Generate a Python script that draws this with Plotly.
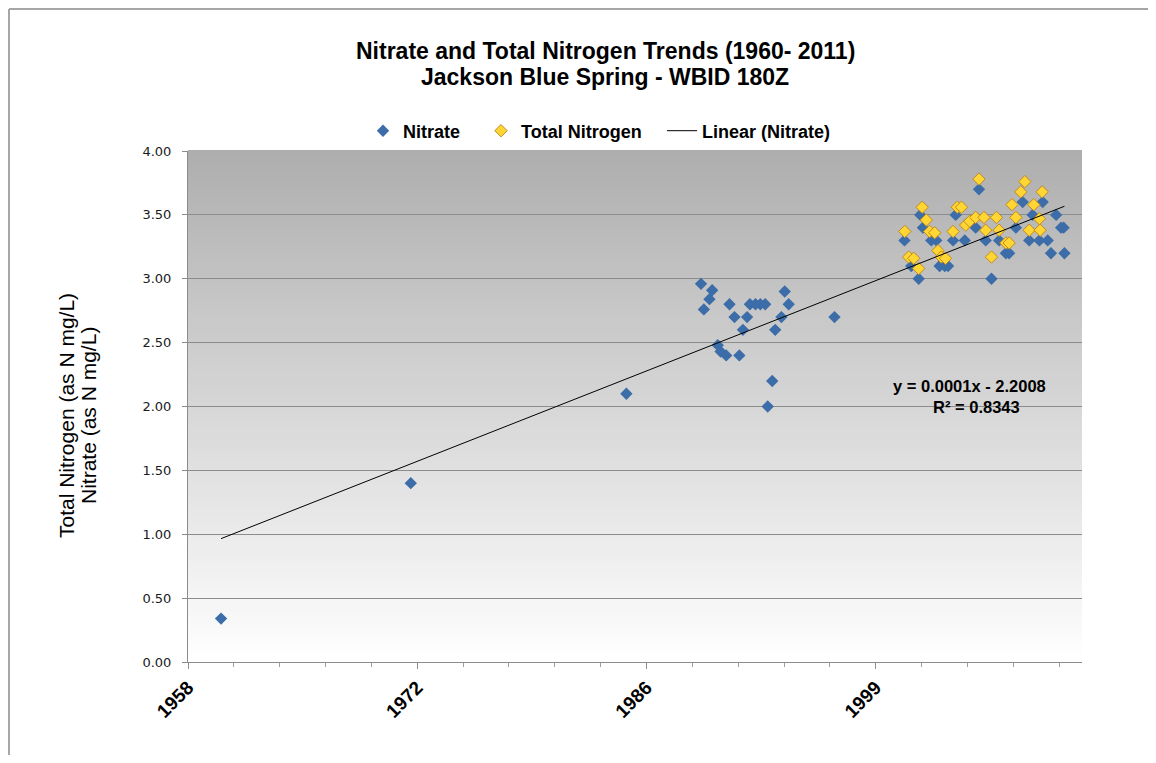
import numpy as np
import pandas as pd
import plotly.graph_objects as go

# ---------------- data ----------------
nitrate_dates = [
    "1960-11-01", "1972-03-01", "1985-01-15",
    "1989-07-01", "1990-03-01", "1990-01-01", "1989-09-01", "1990-07-01",
    "1990-09-01", "1991-01-01", "1991-03-15", "1991-07-01", "1991-10-15",
    "1992-01-01", "1992-04-01", "1992-06-01", "1992-10-01", "1993-01-15",
    "1993-05-01", "1993-06-25", "1993-10-01", "1993-12-05", "1994-04-20",
    "1994-07-01", "1994-09-25", "1997-06-20",
    "2001-08-25", "2002-01-20", "2002-07-01", "2002-08-05", "2002-10-01",
    "2003-04-01", "2003-07-20", "2003-10-01", "2004-01-20", "2004-04-01",
    "2004-07-20", "2004-09-15", "2005-04-01", "2005-11-25", "2006-02-05",
    "2006-07-01", "2006-11-05", "2007-04-20", "2007-09-15", "2007-11-25",
    "2008-04-20", "2008-09-15", "2009-02-05", "2009-04-20", "2009-09-15",
    "2009-11-25", "2010-03-15", "2010-05-25", "2010-09-15", "2011-01-01",
    "2011-02-25", "2011-03-15",
]
nitrate_values = [
    0.34, 1.40, 2.10,
    2.96, 2.91, 2.84, 2.76, 2.48,
    2.43, 2.40, 2.80, 2.70, 2.40,
    2.60, 2.70, 2.80, 2.80, 2.80,
    2.80, 2.00, 2.20, 2.60, 2.70,
    2.90, 2.80, 2.70,
    3.30, 3.10, 3.00, 3.50, 3.40,
    3.30, 3.30, 3.10, 3.10, 3.10,
    3.30, 3.50, 3.30, 3.40, 3.70,
    3.30, 3.00, 3.30, 3.20, 3.20,
    3.40, 3.60, 3.30, 3.50, 3.30,
    3.60, 3.30, 3.20, 3.50, 3.40,
    3.40, 3.20,
]

tn_dates = [
    "2001-09-01", "2001-11-25", "2002-03-15", "2002-07-01", "2002-09-15",
    "2002-12-15", "2003-02-25", "2003-06-15", "2003-08-25", "2003-11-05",
    "2004-02-05", "2004-07-20", "2004-10-20", "2005-01-20", "2005-04-20",
    "2005-07-20", "2005-11-25", "2006-02-05", "2006-05-25", "2006-07-01",
    "2006-11-05", "2007-02-20", "2007-04-20", "2007-09-15", "2007-11-25",
    "2008-01-25", "2008-04-20", "2008-08-05", "2008-11-01", "2009-02-05",
    "2009-05-15", "2009-09-15", "2009-10-01", "2009-11-15",
]
tn_values = [
    3.37, 3.17, 3.16, 3.08, 3.56,
    3.46, 3.37, 3.36, 3.22, 3.17,
    3.16, 3.37, 3.56, 3.56, 3.42,
    3.45, 3.48, 3.78, 3.48, 3.38,
    3.17, 3.48, 3.38, 3.28, 3.28,
    3.58, 3.48, 3.68, 3.76, 3.38,
    3.58, 3.47, 3.38, 3.68,
]

# Excel-style date serials used for the date axis
excel_epoch = pd.Timestamp("1899-12-30")
axis_serial_min = 21500
axis_serial_max = 41000
major_serials = [21500, 26500, 31500, 36500]
major_labels = ["1958", "1972", "1986", "1999"]
minor_step_days = 1000

title_lines = ["Nitrate and Total Nitrogen Trends (1960- 2011)",
               "Jackson Blue Spring - WBID 180Z"]
y_title_lines = ["Total Nitrogen (as N mg/L)", "Nitrate (as N mg/L)"]
series_names = ["Nitrate", "Total Nitrogen", "Linear (Nitrate)"]
equation_text = "y = 0.0001x - 2.2008"
r2_text = "R² = 0.8343"

# ---------------- derived ----------------
nd = pd.to_datetime(nitrate_dates)
td = pd.to_datetime(tn_dates)
n_serial = np.array([(d - excel_epoch).days for d in nd], dtype=float)
slope, intercept = np.polyfit(n_serial, np.array(nitrate_values), 1)
trend_x_serial = np.array([n_serial.min(), n_serial.max()])
trend_x = [excel_epoch + pd.Timedelta(days=float(s)) for s in trend_x_serial]
trend_y = slope * trend_x_serial + intercept


def to_date(s):
    return excel_epoch + pd.Timedelta(days=s)


# ---------------- figure geometry ----------------
OFF = 8                      # page body margin
W, H = 1156 - 2 * OFF, 763 - 2 * OFF
L, T = 188 - OFF, 151 - OFF
R = W - (1082 - OFF)
B = H - (662 - OFF)
pw, ph = W - L - R, H - T - B


def px_x(p):                 # page pixel -> paper x
    return (p - OFF - L) / pw


def px_y(p):                 # page pixel -> paper y
    return (H - B - (p - OFF)) / ph


FONT = "Liberation Sans, Arial, sans-serif"

fig = go.Figure()
fig.add_trace(go.Scatter(
    x=nd, y=nitrate_values, mode="markers", name=series_names[0],
    legend="legend",
    marker=dict(symbol="diamond", size=9.5, color="#3C6DA8",
                line=dict(width=0))))
fig.add_trace(go.Scatter(
    x=td, y=tn_values, mode="markers", name=series_names[1],
    legend="legend2",
    marker=dict(symbol="diamond", size=9.5, color="#FFD633",
                line=dict(width=1, color="#C08A1E"))))
fig.add_trace(go.Scatter(
    x=trend_x, y=trend_y, mode="lines", name=series_names[2],
    legend="legend3",
    line=dict(color="black", width=1)))

# gradient background of plot area
shapes = []
N = 90
top_c, bot_c = 174, 255
for i in range(N):
    f = (i + 0.5) / N  # fraction from bottom
    c = int(round(bot_c + (top_c - bot_c) * f))
    shapes.append(dict(type="rect", xref="x domain", yref="y domain",
                       x0=0, x1=1, y0=i / N, y1=(i + 1) / N + 0.002,
                       fillcolor=f"rgb({c},{c},{c})", line=dict(width=0),
                       layer="below"))
# outer frame lines of the chart area
shapes.append(dict(type="line", xref="paper", yref="paper",
                   x0=px_x(OFF + 1), x1=px_x(1170), y0=px_y(OFF + 1), y1=px_y(OFF + 1),
                   line=dict(color="#A6A6A6", width=2)))
shapes.append(dict(type="line", xref="paper", yref="paper",
                   x0=px_x(OFF + 1), x1=px_x(OFF + 1), y0=px_y(OFF + 1), y1=px_y(780),
                   line=dict(color="#A6A6A6", width=2)))

annotations = [
    dict(text=y_title_lines[0], xref="paper", yref="paper",
         x=px_x(66), y=px_y(416), textangle=-90, showarrow=False,
         font=dict(family=FONT, size=21, color="black"),
         xanchor="center", yanchor="middle"),
    dict(text=y_title_lines[1], xref="paper", yref="paper",
         x=px_x(88), y=px_y(416), textangle=-90, showarrow=False,
         font=dict(family=FONT, size=21, color="black"),
         xanchor="center", yanchor="middle"),
    dict(text=f"<b>{equation_text}</b>", xref="paper", yref="paper",
         x=px_x(969), y=px_y(386), showarrow=False,
         font=dict(family=FONT, size=16.5, color="black"),
         xanchor="center", yanchor="middle"),
    dict(text=f"<b>{r2_text}</b>", xref="paper", yref="paper",
         x=px_x(976), y=px_y(407), showarrow=False,
         font=dict(family=FONT, size=16.5, color="black"),
         xanchor="center", yanchor="middle"),
    dict(text=f"<b>{title_lines[0]}</b>", xref="paper", yref="paper",
         x=px_x(605), y=px_y(51), showarrow=False,
         font=dict(family=FONT, size=23, color="black"),
         xanchor="center", yanchor="middle"),
    dict(text=f"<b>{title_lines[1]}</b>", xref="paper", yref="paper",
         x=px_x(605), y=px_y(77), showarrow=False,
         font=dict(family=FONT, size=23, color="black"),
         xanchor="center", yanchor="middle"),
]

leg_common = dict(orientation="h", xanchor="left", yanchor="middle",
                  y=px_y(131), bgcolor="rgba(0,0,0,0)", borderwidth=0,
                  font=dict(family=FONT, size=18, color="black", weight="bold"),
                  itemwidth=30)

fig.update_layout(
    width=W, height=H,
    margin=dict(l=L, r=R, t=T, b=B, autoexpand=False),
    paper_bgcolor="white", plot_bgcolor="rgba(0,0,0,0)",
    legend=dict(x=px_x(363), **leg_common),
    legend2=dict(x=px_x(481), **leg_common),
    legend3=dict(x=px_x(662), **leg_common),
    shapes=shapes, annotations=annotations, showlegend=True,
)
fig.update_xaxes(
    type="date",
    range=[to_date(axis_serial_min), to_date(axis_serial_max)],
    tickmode="array", tickvals=[to_date(s) for s in major_serials],
    ticktext=[f"<b>{t}</b>" for t in major_labels], tickangle=-45,
    tickfont=dict(family=FONT, size=19, color="black"),
    ticks="outside", ticklen=6, tickcolor="#8C8C8C",
    showline=True, linecolor="#8C8C8C", linewidth=1,
    showgrid=False, zeroline=False,
    minor=dict(ticks="outside", ticklen=4, tickcolor="#A0A0A0",
               dtick=minor_step_days * 86400000,
               tick0=to_date(axis_serial_min), showgrid=False),
)
fig.update_yaxes(
    range=[0, 4], dtick=0.5, tick0=0, tickformat=".2f",
    tickfont=dict(family="DejaVu Sans, Verdana", size=13, color="#1A1A1A"),
    ticks="outside", ticklen=5, tickcolor="#8C8C8C", ticklabelstandoff=8,
    showline=True, linecolor="#8C8C8C", linewidth=1,
    showgrid=True, gridcolor="#8C8C8C", gridwidth=1, zeroline=False,
)

fig.write_html("out.html")
